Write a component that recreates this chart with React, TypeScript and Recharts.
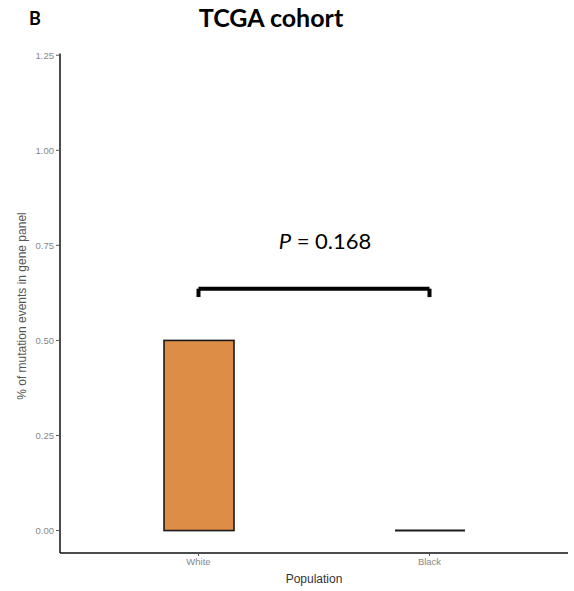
import React from 'react';
import { BarChart, Bar, XAxis, YAxis, ReferenceLine } from 'recharts';

const populations = ['White', 'Black'];
const mutationPct = [0.5, 0];
const yTicks = [0, 0.25, 0.5, 0.75, 1.0, 1.25];
const bracketY = 0.636;
const bracketLegY = 0.614;
const pValueText = '0.168';

const data = populations.map((p, i) => ({ population: p, value: mutationPct[i] }));

const BarShape = (props: any) => {
  const { x, y, width, height, fill } = props;
  if (Math.abs(height) < 0.5) {
    return <line x1={x} x2={x + width} y1={y} y2={y} stroke="#1a1a1a" strokeWidth={2} />;
  }
  return <rect x={x} y={y} width={width} height={height} fill={fill} stroke="#1a1a1a" strokeWidth={1.6} />;
};

const PLabel = (props: any) => {
  const { viewBox } = props;
  const cx = viewBox.x + viewBox.width / 2;
  return (
    <text x={cx + 11} y={viewBox.y - 40} textAnchor="middle" fontFamily="Lato" fontSize={22} fill="#000">
      <tspan fontStyle="italic">P</tspan> = {pValueText}
    </text>
  );
};

const YLabel = () => (
  <text
    x={22}
    y={306}
    transform="rotate(-90, 22, 306)"
    textAnchor="middle"
    dominantBaseline="central"
    fontFamily="Liberation Sans"
    fontSize={12}
    fill="#555"
  >
    % of mutation events in gene panel
  </text>
);

const App: React.FC = () => {
  return (
    <div style={{ position: 'absolute', left: 0, top: 0, width: 574, height: 591, background: '#fff' }}>
      <div style={{ position: 'absolute', left: 29, top: 6, fontFamily: 'Lato', fontWeight: 700, fontSize: 18, lineHeight: '24px' }}>B</div>
      <div style={{ position: 'absolute', left: 0, width: 542, top: 0, textAlign: 'center', fontFamily: 'Lato', fontWeight: 700, fontSize: 25, lineHeight: '34px' }}>
        TCGA cohort
      </div>
      <BarChart width={574} height={591} data={data} margin={{ top: 53.5, right: 6, left: 0, bottom: 0 }}>
        <XAxis
          dataKey="population"
          height={38}
          padding={{ left: 23, right: 23 }}
          axisLine={{ stroke: '#111', strokeWidth: 1.5 }}
          tickLine={{ stroke: '#555' }}
          tickSize={3}
          tick={{ fontFamily: 'Liberation Sans', fontSize: 9.5, fill: '#888' }}
          label={{ value: 'Population', position: 'insideBottom', offset: 8, fontFamily: 'Liberation Sans', fontSize: 12, fill: '#333' }}
        />
        <YAxis
          type="number"
          width={60}
          domain={[-0.059, 1.2545]}
          ticks={yTicks}
          allowDataOverflow
          tickFormatter={(v: number) => v.toFixed(2)}
          axisLine={{ stroke: '#111', strokeWidth: 1.5 }}
          tickLine={{ stroke: '#555' }}
          tickSize={4}
          tick={{ fontFamily: 'Liberation Sans', fontSize: 9.5, fill: '#888' }}
          label={<YLabel />}
        />
        <Bar dataKey="value" barSize={70} fill="#DE8D46" shape={<BarShape />} isAnimationActive={false} />
        <ReferenceLine
          segment={[{ x: 'White', y: bracketY }, { x: 'Black', y: bracketY }]}
          stroke="#000"
          strokeWidth={4}
          label={<PLabel />}
        />
        <ReferenceLine segment={[{ x: 'White', y: bracketY }, { x: 'White', y: bracketLegY }]} stroke="#000" strokeWidth={4} />
        <ReferenceLine segment={[{ x: 'Black', y: bracketY }, { x: 'Black', y: bracketLegY }]} stroke="#000" strokeWidth={4} />
      </BarChart>
    </div>
  );
};

export default App;
